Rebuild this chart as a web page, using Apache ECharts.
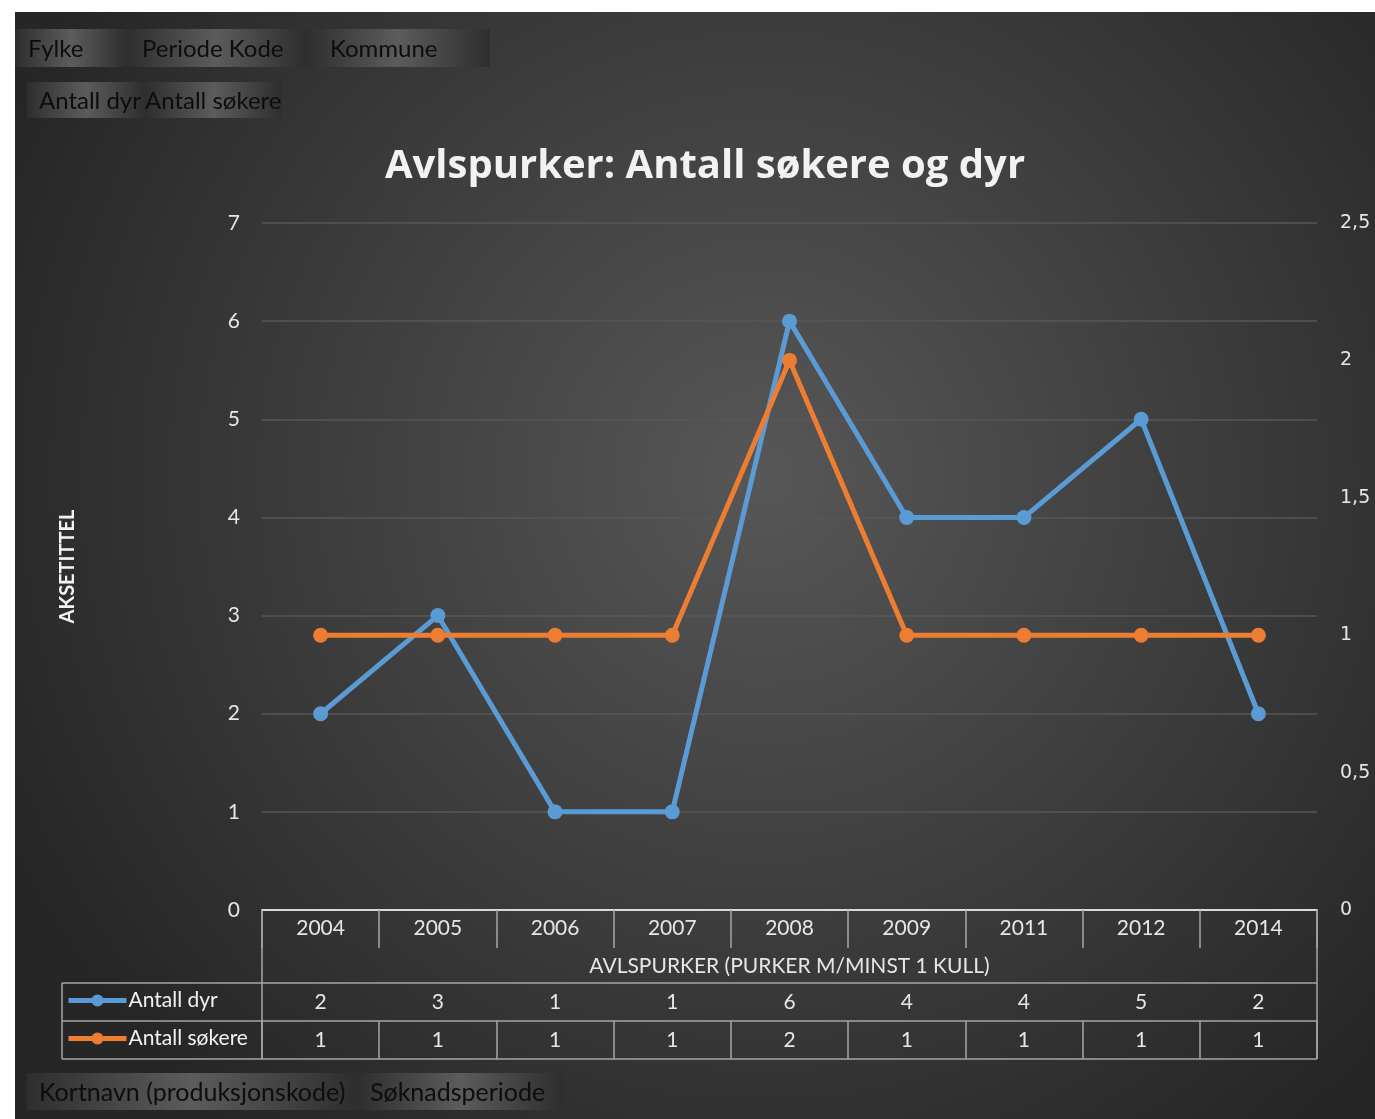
<!DOCTYPE html>
<html>
<head>
<meta charset="utf-8">
<script src="https://cdn.jsdelivr.net/npm/echarts@6/dist/echarts.min.js"></script>
<style>
  html, body { margin: 0; padding: 0; background: #ffffff; }
  #chart { width: 1375px; height: 1119px; }
</style>
</head>
<body>
<div id="chart"></div>
<script>
// data
const years = ['2004', '2005', '2006', '2007', '2008', '2009', '2011', '2012', '2014'];
const antallDyr = [2, 3, 1, 1, 6, 4, 4, 5, 2];
const antallSokere = [1, 1, 1, 1, 2, 1, 1, 1, 1];
const leftAxis = { min: 0, max: 7, interval: 1 };
const rightAxis = { min: 0, max: 2.5, interval: 0.5 };
const fieldButtons = ['Fylke', 'Periode Kode', 'Kommune'];
const valueButtons = ['Antall dyr', 'Antall søkere'];
const rowButtons = ['Kortnavn (produksjonskode)', 'Søknadsperiode'];

const FONT = 'Lato, "Open Sans", sans-serif';
const BLUE = '#5b9bd5';
const ORANGE = '#ed7d31';
const LINE = '#a6a6a6';

// pivot field button: box with soft highlight + label
function button(text, x, y, w, h, tx, size) {
    return [{
        type: 'rect',
        shape: { x: x, y: y, width: w, height: h },
        style: {
            fill: {
                type: 'linear', x: 0, y: 0, x2: 1, y2: 0,
                colorStops: [
                    { offset: 0, color: '#2e2e2e' },
                    { offset: 0.5, color: '#5c5c5c' },
                    { offset: 1, color: '#2e2e2e' }
                ]
            }
        },
        z: 1
    }, {
        type: 'text',
        x: tx, y: y + h / 2 + 1,
        style: { text: text, fill: '#0d0d0d', font: (size || 24) + 'px ' + FONT, textVerticalAlign: 'middle' },
        z: 2
    }];
}

let graphics = [{
    type: 'rect',
    shape: { x: 15, y: 12, width: 1360, height: 1107 },
    style: {
        fill: {
            type: 'radial', x: 0.55, y: 0.42, r: 0.75,
            colorStops: [{ offset: 0, color: '#575757' }, { offset: 1, color: '#262626' }]
        }
    },
    z: -10
}];
graphics = graphics.concat(button(fieldButtons[0], 15, 29, 112, 38, 28));
graphics = graphics.concat(button(fieldButtons[1], 127, 29, 178, 38, 142));
graphics = graphics.concat(button(fieldButtons[2], 305, 29, 185, 38, 330));
graphics = graphics.concat(button(valueButtons[0], 27, 82, 118, 36, 39));
graphics = graphics.concat(button(valueButtons[1], 145, 82, 137, 36, 145));
graphics = graphics.concat(button(rowButtons[0], 27, 1073, 330, 37, 39, 25));
graphics = graphics.concat(button(rowButtons[1], 357, 1073, 206, 37, 370, 25));

// data table frame
const tl = (x1, y1, x2, y2) => ({
    type: 'line', shape: { x1: x1, y1: y1, x2: x2, y2: y2 },
    style: { stroke: LINE, lineWidth: 1.5 }, z: 5
});
graphics.push(tl(62, 983, 1317, 983));
graphics.push(tl(62, 1021, 1317, 1021));
graphics.push(tl(62, 1059, 1317, 1059));
graphics.push(tl(62, 983, 62, 1059));
graphics.push(tl(262, 910, 262, 1059));
graphics.push(tl(1317, 910, 1317, 1059));

const chart = echarts.init(document.getElementById('chart'));

const tableAxis = (vals, offset) => ({
    type: 'category',
    data: years,
    position: 'bottom',
    offset: offset,
    boundaryGap: true,
    axisLine: { show: false },
    axisTick: { show: true, length: 38, lineStyle: { color: LINE, width: 1.5 } },
    axisLabel: {
        interval: 0, margin: 9, color: '#e6e6e6', fontSize: 21, fontFamily: FONT,
        formatter: (v, i) => String(vals[i])
    },
    splitLine: { show: false }
});

const legendRow = (name, top) => ({
    data: [name], left: 66, top: top, padding: 0, itemGap: 0,
    itemWidth: 58, itemHeight: 15,
    lineStyle: { width: 5 },
    textStyle: { color: '#f2f2f2', fontSize: 21, fontFamily: FONT, padding: [0, 0, 0, -3] }
});

const option = {
    animation: false,
    title: {
        text: 'Avlspurker: Antall søkere og dyr',
        left: 700,
        textAlign: 'center',
        top: 142,
        textStyle: { color: '#f2f2f2', fontSize: 40, fontWeight: 'bold', fontFamily: '"Open Sans", sans-serif' }
    },
    grid: { left: 262, right: 58, top: 223, bottom: 209 },
    legend: [legendRow('Antall dyr', 990), legendRow('Antall søkere', 1028)],
    xAxis: [{
        type: 'category',
        data: years,
        position: 'bottom',
        boundaryGap: true,
        name: 'AVLSPURKER (PURKER M/MINST 1 KULL)',
        nameLocation: 'middle',
        nameGap: 46,
        nameTextStyle: { color: '#e6e6e6', fontSize: 21, fontFamily: FONT },
        axisLine: { lineStyle: { color: '#d9d9d9', width: 2 } },
        axisTick: { show: true, length: 36, lineStyle: { color: LINE, width: 1.5 } },
        axisLabel: { interval: 0, margin: 8, color: '#e6e6e6', fontSize: 21, fontFamily: FONT }
    }, tableAxis(antallDyr, 73), tableAxis(antallSokere, 111)],
    yAxis: [{
        type: 'value',
        min: leftAxis.min, max: leftAxis.max, interval: leftAxis.interval,
        name: 'AKSETITTEL',
        nameLocation: 'middle',
        nameRotate: 90,
        nameGap: 184,
        nameTextStyle: { color: '#f2f2f2', fontSize: 20, fontWeight: 'bold', fontFamily: FONT },
        axisLine: { show: false },
        axisTick: { show: false },
        axisLabel: { margin: 22, color: '#e6e6e6', fontSize: 21, fontFamily: FONT },
        splitLine: { lineStyle: { color: '#575757', width: 1.5 } }
    }, {
        type: 'value',
        position: 'right',
        min: rightAxis.min, max: rightAxis.max, interval: rightAxis.interval,
        axisLine: { show: false },
        axisTick: { show: false },
        splitLine: { show: false },
        axisLabel: {
            margin: 23, color: '#e6e6e6', fontSize: 19, fontFamily: '"DejaVu Sans", sans-serif',
            formatter: v => String(v).replace('.', ',')
        }
    }],
    series: [{
        name: 'Antall dyr',
        type: 'line',
        xAxisIndex: 0,
        yAxisIndex: 0,
        data: antallDyr,
        symbol: 'circle',
        symbolSize: 15,
        lineStyle: { color: BLUE, width: 5 },
        itemStyle: { color: BLUE }
    }, {
        name: 'Antall søkere',
        type: 'line',
        xAxisIndex: 0,
        yAxisIndex: 1,
        data: antallSokere,
        symbol: 'circle',
        symbolSize: 15,
        lineStyle: { color: ORANGE, width: 5 },
        itemStyle: { color: ORANGE }
    }],
    graphic: graphics
};

chart.setOption(option);
</script>
</body>
</html>
